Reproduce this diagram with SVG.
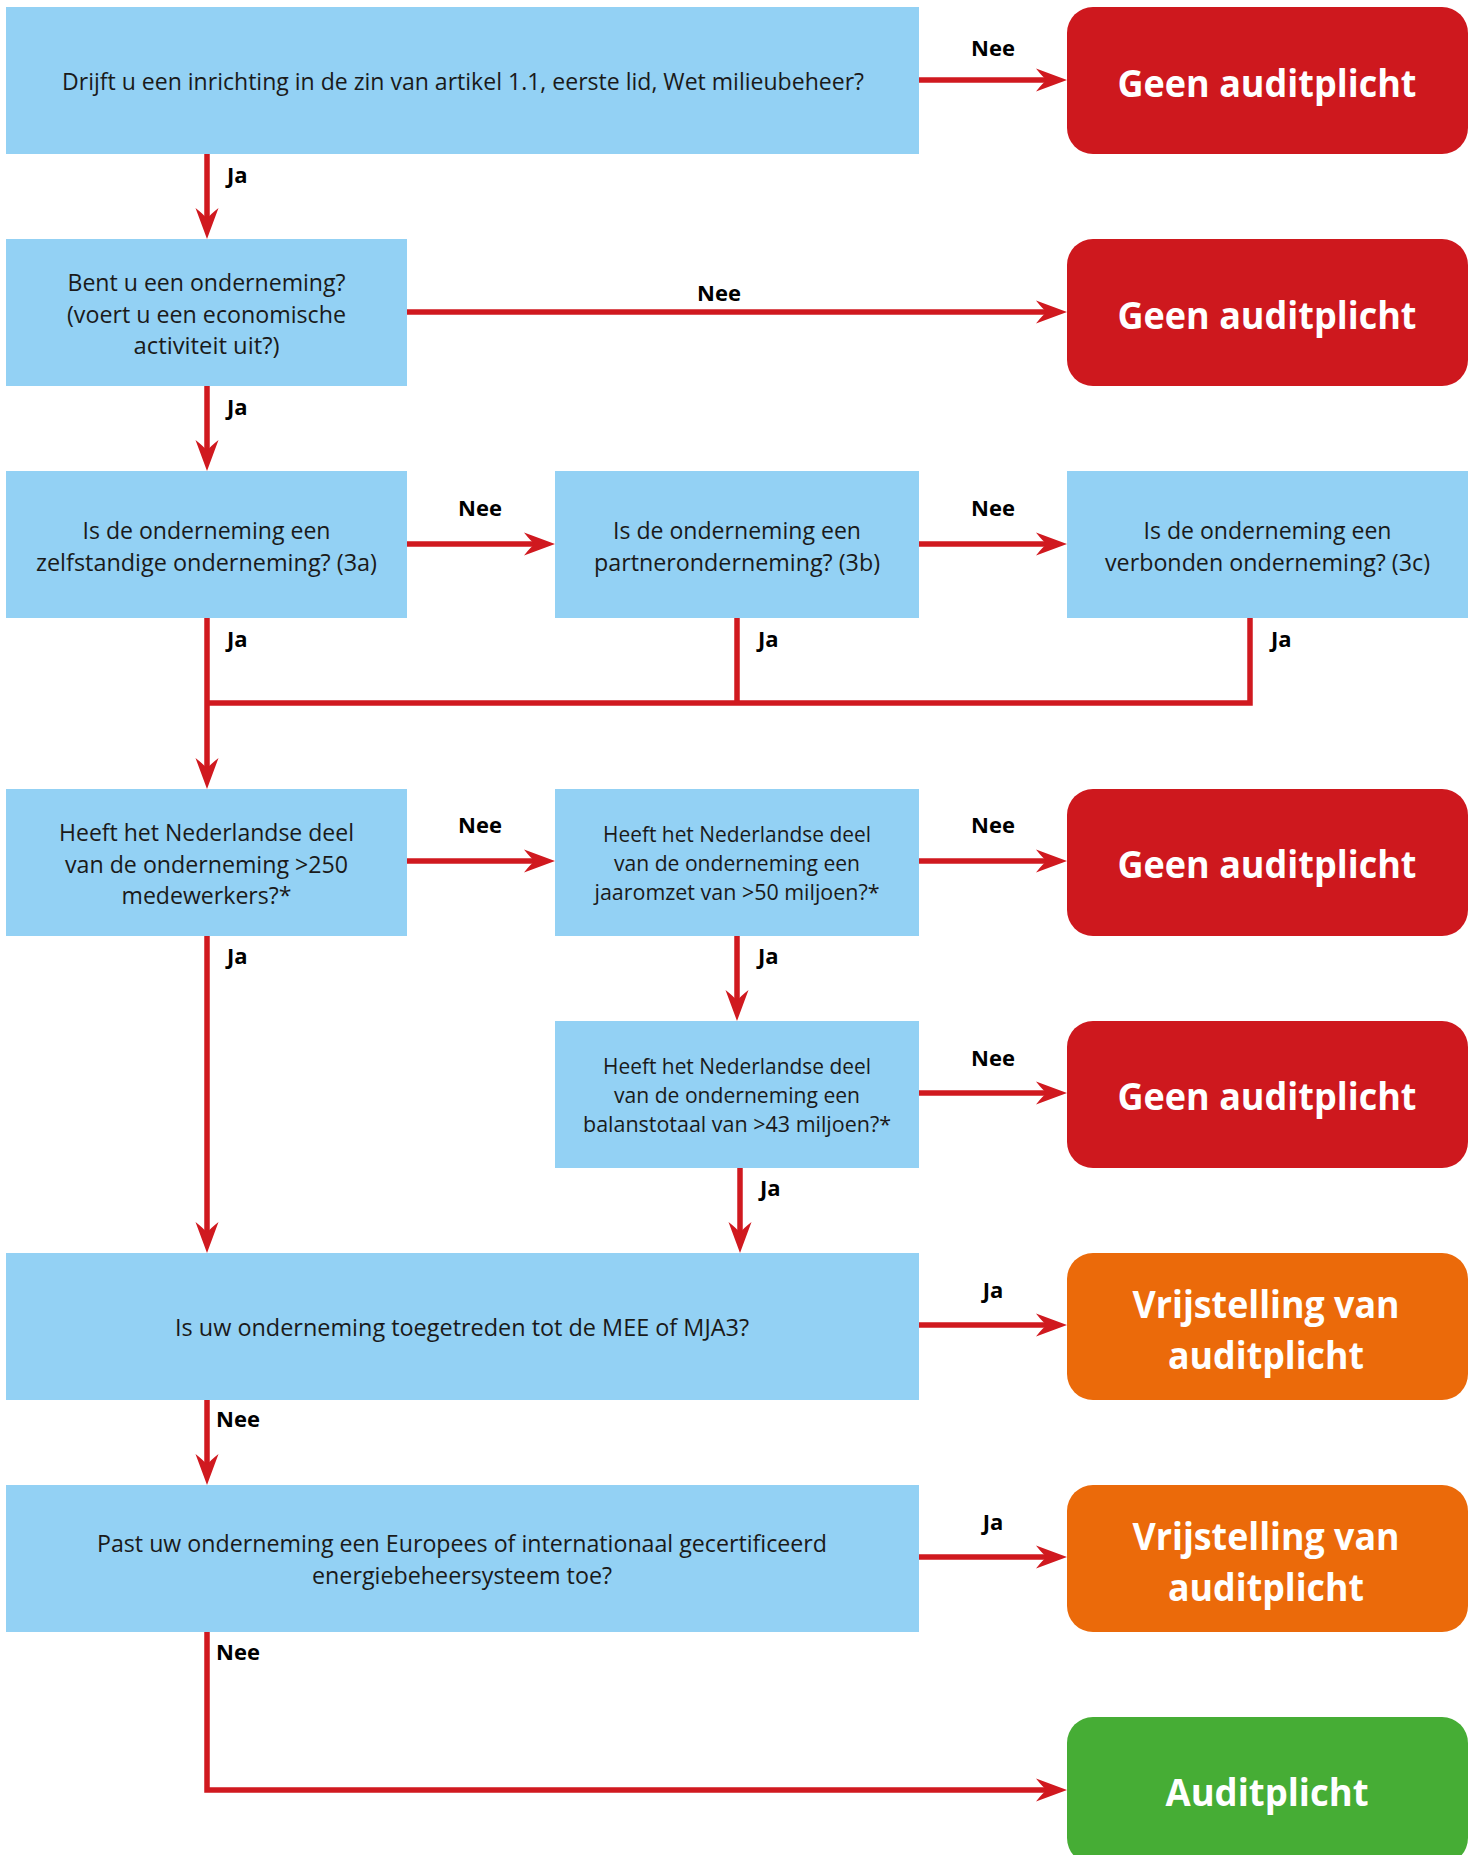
<svg xmlns="http://www.w3.org/2000/svg" width="1473" height="1855" viewBox="0 0 1473 1855">
<style>
.q{fill:#93D1F4}
.r{fill:#CE181E}
.o{fill:#EB6A0A}
.g{fill:#46AD35}
.t{font-family:"Open Sans","Noto Sans",sans-serif;font-size:23px;fill:#1a1a1a;text-anchor:middle}
.ts{font-size:21px}
.w{font-family:"Open Sans","Noto Sans",sans-serif;font-size:37px;font-weight:bold;fill:#ffffff;text-anchor:middle}
.l{font-family:"Open Sans","Noto Sans",sans-serif;font-size:22px;font-weight:bold;fill:#000000}
.lc{text-anchor:middle}
.c{fill:none;stroke:#D0191F;stroke-width:5.5;stroke-linejoin:miter}
.a{marker-end:url(#ah)}
</style>
<defs>
<marker id="ah" markerUnits="userSpaceOnUse" markerWidth="32" markerHeight="24" viewBox="0 0 32 24" refX="11" refY="12" orient="auto">
<path d="M0,0.5 L31,12 L0,23.5 Q7,14.5 11,12 Q7,9.5 0,0.5Z" fill="#D0191F"/>
</marker>
</defs>
<rect width="1473" height="1855" fill="#ffffff"/>

<g id="connectors">
<path class="c a" d="M919,80 H1047"/>
<path class="c a" d="M207,154 V219"/>
<path class="c a" d="M407,312 H1047"/>
<path class="c a" d="M207,386 V451"/>
<path class="c a" d="M407,544 H535"/>
<path class="c a" d="M919,544 H1047"/>
<path class="c a" d="M207,618 V769"/>
<path class="c" d="M1250,618 V703 H207"/>
<path class="c" d="M737,618 V703"/>
<path class="c a" d="M407,861 H535"/>
<path class="c a" d="M919,861 H1047"/>
<path class="c a" d="M207,936 V1233"/>
<path class="c a" d="M737,936 V1001"/>
<path class="c a" d="M919,1093 H1047"/>
<path class="c a" d="M740,1168 V1233"/>
<path class="c a" d="M919,1325 H1047"/>
<path class="c a" d="M207,1400 V1465"/>
<path class="c a" d="M919,1557 H1047"/>
<path class="c a" d="M207,1632 V1790 H1047"/>
</g>

<g id="labels">
<text class="l lc" x="993" y="56">Nee</text>
<text class="l" x="227" y="183">Ja</text>
<text class="l lc" x="719" y="301">Nee</text>
<text class="l" x="227" y="415">Ja</text>
<text class="l lc" x="480" y="516">Nee</text>
<text class="l lc" x="993" y="516">Nee</text>
<text class="l" x="227" y="647">Ja</text>
<text class="l" x="758" y="647">Ja</text>
<text class="l" x="1271" y="647">Ja</text>
<text class="l lc" x="480" y="833">Nee</text>
<text class="l lc" x="993" y="833">Nee</text>
<text class="l" x="227" y="964">Ja</text>
<text class="l" x="758" y="964">Ja</text>
<text class="l lc" x="993" y="1066">Nee</text>
<text class="l" x="760" y="1196">Ja</text>
<text class="l lc" x="993" y="1298">Ja</text>
<text class="l" x="216" y="1427">Nee</text>
<text class="l lc" x="993" y="1530">Ja</text>
<text class="l" x="216" y="1660">Nee</text>
</g>

<g id="q1">
<rect class="q" x="6" y="7" width="913" height="147"/>
<text class="t" x="463" y="90" textLength="802" lengthAdjust="spacingAndGlyphs">Drijft u een inrichting in de zin van artikel 1.1, eerste lid, Wet milieubeheer?</text>
</g>
<g id="r1">
<rect class="r" x="1067" y="7" width="401" height="147" rx="26"/>
<text class="w" x="1267" y="97" textLength="299" lengthAdjust="spacingAndGlyphs">Geen auditplicht</text>
</g>

<g id="q2">
<rect class="q" x="6" y="239" width="401" height="147"/>
<text class="t" x="206.5" y="291" textLength="278" lengthAdjust="spacingAndGlyphs">Bent u een onderneming?</text>
<text class="t" x="206.5" y="323" textLength="279" lengthAdjust="spacingAndGlyphs">(voert u een economische</text>
<text class="t" x="206.5" y="354" textLength="146" lengthAdjust="spacingAndGlyphs">activiteit uit?)</text>
</g>
<g id="r2">
<rect class="r" x="1067" y="239" width="401" height="147" rx="26"/>
<text class="w" x="1267" y="329" textLength="299" lengthAdjust="spacingAndGlyphs">Geen auditplicht</text>
</g>

<g id="q3a">
<rect class="q" x="6" y="471" width="401" height="147"/>
<text class="t" x="206.5" y="539" textLength="248" lengthAdjust="spacingAndGlyphs">Is de onderneming een</text>
<text class="t" x="206.5" y="571" textLength="341" lengthAdjust="spacingAndGlyphs">zelfstandige onderneming? (3a)</text>
</g>
<g id="q3b">
<rect class="q" x="555" y="471" width="364" height="147"/>
<text class="t" x="737" y="539" textLength="248" lengthAdjust="spacingAndGlyphs">Is de onderneming een</text>
<text class="t" x="737" y="571" textLength="286" lengthAdjust="spacingAndGlyphs">partneronderneming? (3b)</text>
</g>
<g id="q3c">
<rect class="q" x="1067" y="471" width="401" height="147"/>
<text class="t" x="1267.5" y="539" textLength="248" lengthAdjust="spacingAndGlyphs">Is de onderneming een</text>
<text class="t" x="1267.5" y="571" textLength="325" lengthAdjust="spacingAndGlyphs">verbonden onderneming? (3c)</text>
</g>

<g id="q4">
<rect class="q" x="6" y="789" width="401" height="147"/>
<text class="t" x="206.5" y="841" textLength="295" lengthAdjust="spacingAndGlyphs">Heeft het Nederlandse deel</text>
<text class="t" x="206.5" y="873" textLength="283" lengthAdjust="spacingAndGlyphs">van de onderneming &gt;250</text>
<text class="t" x="206.5" y="904" textLength="170" lengthAdjust="spacingAndGlyphs">medewerkers?*</text>
</g>
<g id="q5">
<rect class="q" x="555" y="789" width="364" height="147"/>
<text class="t ts" x="737" y="842" textLength="268" lengthAdjust="spacingAndGlyphs">Heeft het Nederlandse deel</text>
<text class="t ts" x="737" y="871" textLength="246" lengthAdjust="spacingAndGlyphs">van de onderneming een</text>
<text class="t ts" x="737" y="900" textLength="285" lengthAdjust="spacingAndGlyphs">jaaromzet van &gt;50 miljoen?*</text>
</g>
<g id="r3">
<rect class="r" x="1067" y="789" width="401" height="147" rx="26"/>
<text class="w" x="1267" y="878" textLength="299" lengthAdjust="spacingAndGlyphs">Geen auditplicht</text>
</g>

<g id="q6">
<rect class="q" x="555" y="1021" width="364" height="147"/>
<text class="t ts" x="737" y="1074" textLength="268" lengthAdjust="spacingAndGlyphs">Heeft het Nederlandse deel</text>
<text class="t ts" x="737" y="1103" textLength="246" lengthAdjust="spacingAndGlyphs">van de onderneming een</text>
<text class="t ts" x="737" y="1132" textLength="308" lengthAdjust="spacingAndGlyphs">balanstotaal van &gt;43 miljoen?*</text>
</g>
<g id="r4">
<rect class="r" x="1067" y="1021" width="401" height="147" rx="26"/>
<text class="w" x="1267" y="1110" textLength="299" lengthAdjust="spacingAndGlyphs">Geen auditplicht</text>
</g>

<g id="q7">
<rect class="q" x="6" y="1253" width="913" height="147"/>
<text class="t" x="462" y="1336" textLength="574" lengthAdjust="spacingAndGlyphs">Is uw onderneming toegetreden tot de MEE of MJA3?</text>
</g>
<g id="o1">
<rect class="o" x="1067" y="1253" width="401" height="147" rx="26"/>
<text class="w" x="1266" y="1318" textLength="267" lengthAdjust="spacingAndGlyphs">Vrijstelling van</text>
<text class="w" x="1266" y="1369" textLength="196" lengthAdjust="spacingAndGlyphs">auditplicht</text>
</g>

<g id="q8">
<rect class="q" x="6" y="1485" width="913" height="147"/>
<text class="t" x="462" y="1552" textLength="730" lengthAdjust="spacingAndGlyphs">Past uw onderneming een Europees of internationaal gecertificeerd</text>
<text class="t" x="462" y="1584" textLength="300" lengthAdjust="spacingAndGlyphs">energiebeheersysteem toe?</text>
</g>
<g id="o2">
<rect class="o" x="1067" y="1485" width="401" height="147" rx="26"/>
<text class="w" x="1266" y="1550" textLength="267" lengthAdjust="spacingAndGlyphs">Vrijstelling van</text>
<text class="w" x="1266" y="1601" textLength="196" lengthAdjust="spacingAndGlyphs">auditplicht</text>
</g>

<g id="g1">
<rect class="g" x="1067" y="1717" width="401" height="147" rx="26"/>
<text class="w" x="1267" y="1806" textLength="203" lengthAdjust="spacingAndGlyphs">Auditplicht</text>
</g>
</svg>
